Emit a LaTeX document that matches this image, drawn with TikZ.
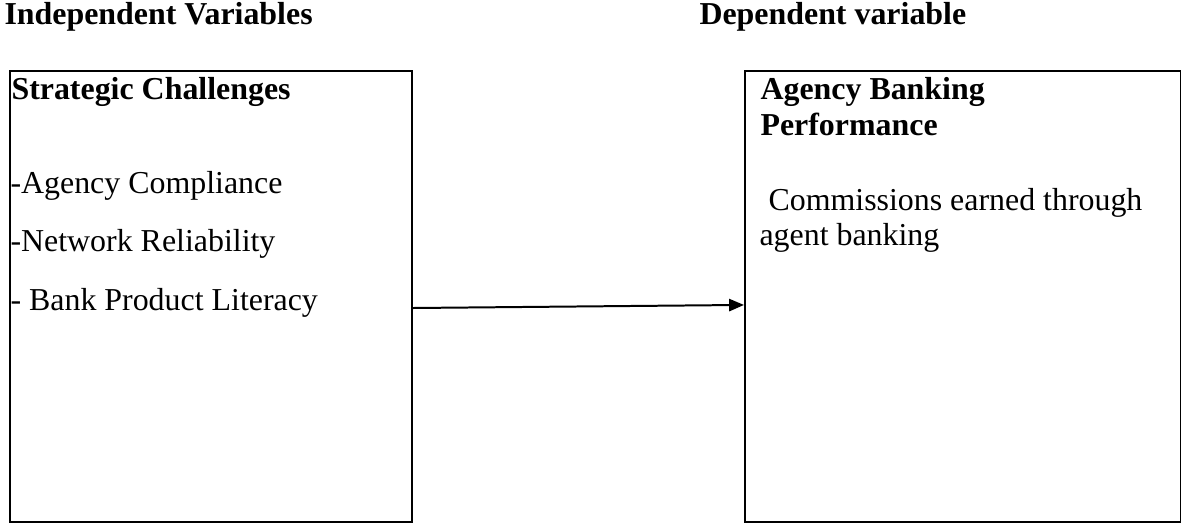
\documentclass[tikz,border=0pt]{standalone}
\usepackage{fontspec}
\setmainfont{Liberation Serif}
\usetikzlibrary{arrows.meta}

\begin{document}
\begin{tikzpicture}[
    x=0.3762pt, y=-0.3762pt,
    varbox/.style={draw, line width=0.75pt, anchor=north west, inner sep=0pt},
    headfont/.style={font=\fontsize{12}{14}\selectfont\bfseries, anchor=base west, inner sep=0pt},
    itemfont/.style={font=\fontsize{12}{14}\selectfont, anchor=base west, inner sep=0pt},
    link/.style={line width=0.75pt, -{Triangle[length=5.6pt, width=4.6pt]}}
]

% Page size (coordinates are in px of the page)
\useasboundingbox (0,0) rectangle (1181,523);

% Box sizes
\def\unit{0.3762pt}
\def\boxtop{70}
\def\boxheight{451}
\def\leftx{9}
\def\leftwidth{402}
\def\rightx{744}
\def\rightwidth{436}

% Headings
\node[headfont] (indep) at (4,25) {Independent Variables};
\node[headfont] (dep) at (699,25) {Dependent variable};

% Left box (independent)
\node[varbox, minimum width={\leftwidth*\unit}, minimum height={\boxheight*\unit}] (leftbox) at (\leftx,\boxtop) {};
\node[headfont] (strat) at (11,100) {Strategic Challenges};
\foreach \i/\txt in {0/-Agency Compliance, 1/-Network Reliability, 2/- Bank Product Literacy} {
    \pgfmathsetmacro{\y}{193+\i*58.5}
    \node[itemfont] (item\i) at (10,\y) {\txt};
}

% Right box (dependent)
\node[varbox, minimum width={\rightwidth*\unit}, minimum height={\boxheight*\unit}] (rightbox) at (\rightx,\boxtop) {};
\node[headfont] (perfA) at (760,100) {Agency Banking};
\node[headfont] (perfB) at (760,135) {Performance};
\node[itemfont] (comm) at (768,210) {Commissions earned through};
\node[itemfont] (agent) at (759,245) {agent banking};

% Arrow between the boxes
\draw[link] ([yshift=0.75pt]leftbox.east |- item2.base) -- ([yshift=1.9pt]rightbox.west |- item2.base);

\end{tikzpicture}
\end{document}
